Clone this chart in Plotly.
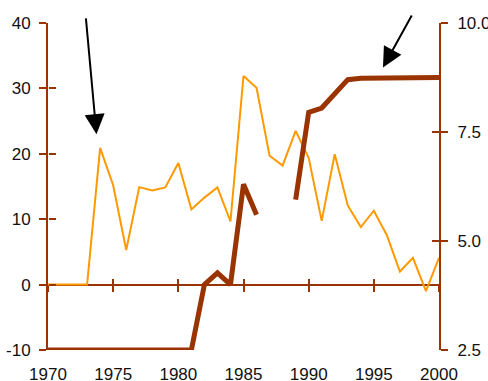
import plotly.graph_objects as go

years = list(range(1970, 2001))
# left axis series (orange)
orange_vals = [0, 0, 0, 0, 20.9, 15.2, 5.3, 14.9, 14.4, 14.85, 18.6, 11.5, 13.3, 14.85,
               9.65, 31.9, 30.1, 19.7, 18.2, 23.5, 19.4, 9.75, 19.95, 12.1, 8.8, 11.3,
               7.55, 2.0, 4.1, -1.0, 4.1]
# right axis series (dark red)
red_vals = [2.5, 2.5, 2.5, 2.5, 2.5, 2.5, 2.5, 2.5, 2.5, 2.5, 2.5, 2.5, 4.0, 4.27,
            4.0, 6.3, 5.6, None, None, 5.95, 7.95, 8.05, 8.38, 8.7, 8.73, 8.73,
            8.74, 8.75, 8.75, 8.75, 8.75]

x_ticks = [1970, 1975, 1980, 1985, 1990, 1995, 2000]
left_ticks = [-10, 0, 10, 20, 30, 40]
left_tick_text = ["-10", "0", "10", "20", "30", "40"]
right_ticks = [2.5, 5.0, 7.5, 10.0]
right_tick_text = ["2.5", "5.0", "7.5", "10.0"]

# arrow annotations: tip (year, left value) and tail offset in px
arrow_tips = [(1973.72, 23.0), (1995.7, 33.2)]
arrow_tails = [(-10.7, -117.3), (29.6, -53.4)]

DARK = "#993300"
ORANGE = "#FF9900"
FONT = dict(family="Liberation Sans, Arial, sans-serif", size=17, color="#111111")

fig = go.Figure()
fig.add_trace(go.Scatter(x=years, y=orange_vals, mode="lines",
                         line=dict(color=ORANGE, width=2), xaxis="x", yaxis="y",
                         showlegend=False, hoverinfo="skip"))
fig.add_trace(go.Scatter(x=years, y=red_vals, mode="lines",
                         line=dict(color=DARK, width=5), xaxis="x", yaxis="y2",
                         connectgaps=False, showlegend=False, hoverinfo="skip"))
# empty helper traces so the overlay axes (crossing ticks) get drawn
fig.add_trace(go.Scatter(x=[None], y=[None], xaxis="x2", yaxis="y3",
                         showlegend=False, hoverinfo="skip"))
fig.add_trace(go.Scatter(x=[None], y=[None], xaxis="x3", yaxis="y4",
                         showlegend=False, hoverinfo="skip"))

common = dict(showgrid=False, zeroline=False, automargin=False)
fig.update_layout(
    width=488, height=381,
    margin=dict(l=48, r=49, t=23, b=31, pad=0),
    plot_bgcolor="white", paper_bgcolor="white",
    font=FONT,
    xaxis=dict(range=[1970, 2000], tickvals=x_ticks, showline=False,
               ticks="outside", ticklen=0, tickcolor="rgba(0,0,0,0)",
               ticklabelstandoff=9, tickfont=FONT, **common),
    xaxis2=dict(range=[1970, 2000], overlaying="x", anchor="free", position=0.2,
                tickvals=x_ticks, showline=False,
                ticks="outside", ticklen=6, tickwidth=2, tickcolor=DARK,
                showticklabels=False, **common),
    xaxis3=dict(range=[1970, 2000], overlaying="x", anchor="free", position=0.2,
                tickvals=x_ticks, showline=False,
                ticks="inside", ticklen=6, tickwidth=2, tickcolor=DARK,
                showticklabels=False, **common),
    yaxis=dict(range=[-10, 40], tickvals=left_ticks, ticktext=left_tick_text,
               showline=True, linecolor=DARK,
               linewidth=2, ticks="outside", ticklen=7, tickwidth=2, tickcolor=DARK,
               ticklabelstandoff=5, tickfont=FONT, showgrid=False, automargin=False,
               zeroline=True, zerolinecolor=DARK, zerolinewidth=2),
    yaxis3=dict(range=[-10, 40], overlaying="y", side="left", anchor="free", position=0,
                tickvals=left_ticks, showline=False, ticks="inside", ticklen=7,
                tickwidth=2, tickcolor=DARK, showticklabels=False, **common),
    yaxis2=dict(range=[2.5, 10], overlaying="y", side="right", anchor="x",
                tickvals=right_ticks, ticktext=right_tick_text, showline=True,
                linecolor=DARK, linewidth=2, ticks="outside", ticklen=7, tickwidth=2,
                tickcolor=DARK, ticklabelstandoff=6, tickfont=FONT, **common),
    yaxis4=dict(range=[2.5, 10], overlaying="y", side="right", anchor="free", position=1,
                tickvals=right_ticks, showline=False, ticks="inside", ticklen=7,
                tickwidth=2, tickcolor=DARK, showticklabels=False, **common),
)

for (tx, ty), (ax, ay) in zip(arrow_tips, arrow_tails):
    fig.add_annotation(x=tx, y=ty, xref="x", yref="y", ax=ax, ay=ay,
                       showarrow=True, arrowhead=2, arrowsize=2, arrowwidth=2,
                       arrowcolor="black", standoff=0, text="")

fig.write_html("out.html", config={"displayModeBar": False},
               post_script="document.body.style.margin='0';")
